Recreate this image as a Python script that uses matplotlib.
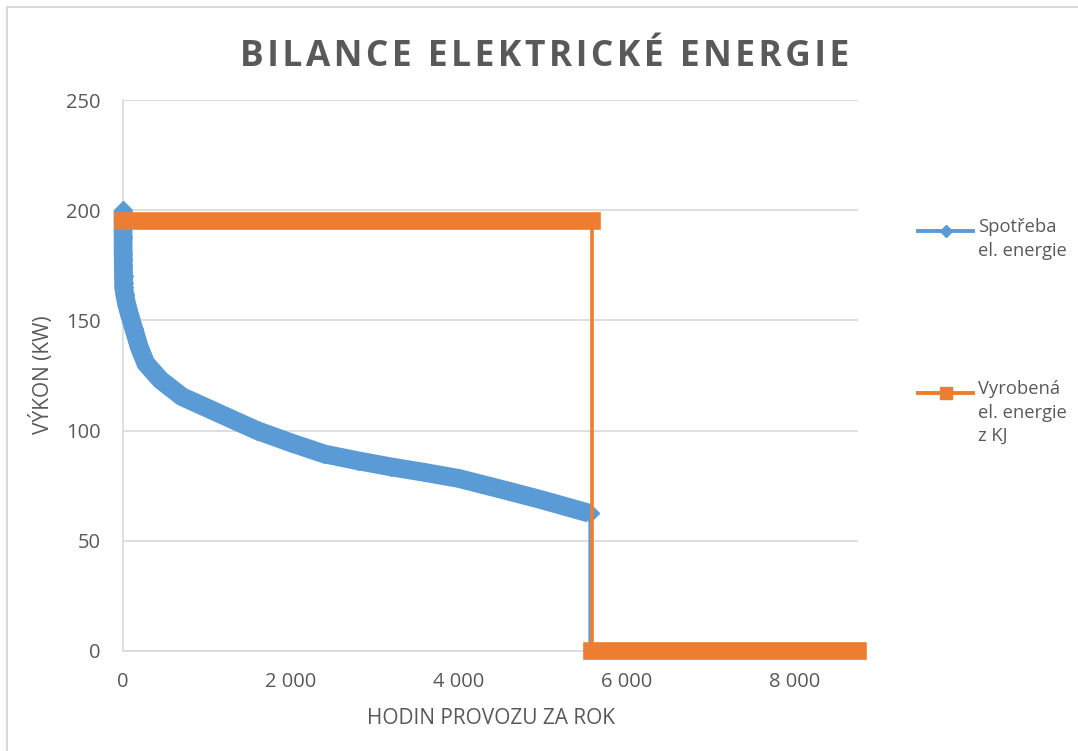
import numpy as np
import matplotlib.pyplot as plt
from matplotlib.lines import Line2D
from matplotlib.ticker import FuncFormatter

plt.rcParams['font.family'] = ['Open Sans', 'DejaVu Sans']

# spotřeba el. energie - seřazená křivka trvání (hodiny, kW)
hours_use = [0, 1, 2, 3, 4, 5, 6, 7, 8, 20, 40, 75, 130, 193, 272, 447, 703,
             1000, 1319, 1600, 2000, 2400, 2800, 3200, 3600, 4000, 4600, 5000,
             5560, 5560]
kw_use = [200, 188, 180, 178, 175, 172, 170, 167, 165, 162, 158, 153, 146, 138,
          130.5, 123, 115.4, 110.3, 104.8, 100, 94.5, 89.4, 86.3, 83.5, 81,
          78.3, 72.5, 68.5, 62.5, 0]

# výroba z kogenerační jednotky (hodiny, kW)
hours_kj = [0, 5585, 5585, 8760]
kw_kj = [195, 195, 0, 0]

x_ticks = [0, 2000, 4000, 6000, 8000]
y_ticks = [0, 50, 100, 150, 200, 250]

labels = ["Spotřeba\nel. energie", "Vyrobená\nel. energie\nz KJ"]

BLUE = "#5B9BD5"
ORANGE = "#ED7D31"
GREY = "#595959"
GRID = "#D9D9D9"


def dense_runs(x):
    # úseky, kde se mění čas - tam jsou body hodinové a splývají v pás
    out, cur = [], [0]
    for i in range(1, len(x)):
        if x[i] != x[i - 1]:
            cur.append(i)
        else:
            if len(cur) > 1:
                out.append(cur)
            cur = [i]
    if len(cur) > 1:
        out.append(cur)
    return out


fig = plt.figure(figsize=(10.78, 7.51), dpi=100)
ax = fig.add_axes([123 / 1078, 1 - 651 / 751, 735 / 1078, 551 / 751])

# spotřeba
xu, yu = np.array(hours_use), np.array(kw_use)
ax.plot(xu, yu, color=BLUE, lw=1.6, zorder=3)
for r in dense_runs(hours_use):
    ax.plot(xu[r], yu[r], color=BLUE, lw=13.5, solid_capstyle='butt',
            solid_joinstyle='round', marker='D', ms=9.5, mec=BLUE, mfc=BLUE,
            zorder=3, clip_on=False)

# výroba KJ
xk, yk = np.array(hours_kj), np.array(kw_kj)
ax.plot(xk, yk, color=ORANGE, lw=2.6, zorder=4)
for r in dense_runs(hours_kj):
    ax.plot(xk[r], yk[r], color=ORANGE, lw=12.7, solid_capstyle='projecting',
            zorder=4, clip_on=False)

ax.set_xlim(0, 8760)
ax.set_ylim(0, 250)
ax.set_xticks(x_ticks)
ax.set_yticks(y_ticks)
ax.xaxis.set_major_formatter(FuncFormatter(lambda v, p: f"{v:,.0f}".replace(",", " ")))
ax.grid(axis='y', color=GRID, lw=1.2, zorder=0)
ax.set_axisbelow(True)
for s in ['top', 'right']:
    ax.spines[s].set_visible(False)
for s in ['left', 'bottom']:
    ax.spines[s].set_color(GRID)
    ax.spines[s].set_linewidth(1.2)
ax.tick_params(length=0, labelsize=14.5, labelcolor=GREY)
ax.tick_params(axis='y', pad=16)
ax.tick_params(axis='x', pad=15)

# nadpis s prostrkáním písmen
title = "\u200a".join("BILANCE ELEKTRICKÉ ENERGIE")
fig.text(545 / 1078, 1 - 57 / 751, title, ha='center', va='center',
         fontsize=25.5, fontweight='bold', color=GREY)
fig.text(42 / 1078, 1 - 375 / 751, "VÝKON (KW)", rotation=90, ha='center',
         va='center', fontsize=15, color=GREY)
fig.text(491 / 1078, 1 - 718 / 751, "HODIN PROVOZU ZA ROK", ha='center',
         va='center', fontsize=15, color=GREY)

# legenda vpravo
W, H = 1078, 751
for ypx, col, mk, ms, lab in [(231, BLUE, 'D', 6, labels[0]),
                              (393, ORANGE, 's', 8, labels[1])]:
    fig.add_artist(Line2D([918 / W, 973 / W], [1 - ypx / H] * 2, color=col,
                          lw=2.8, transform=fig.transFigure))
    fig.add_artist(Line2D([946 / W], [1 - ypx / H], color=col, marker=mk,
                          ms=ms, transform=fig.transFigure))
    fig.text(978 / W, 1 - (ypx - 13) / H, lab, ha='left', va='top',
             fontsize=13.2, color=GREY, linespacing=1.4)

# rámeček grafu
fig.add_artist(Line2D([7 / W, 7 / W], [1 - 7 / H, 0], color=GRID, lw=1.5,
                      transform=fig.transFigure))
fig.add_artist(Line2D([7 / W, 1], [1 - 7 / H, 1 - 7 / H], color=GRID, lw=1.5,
                      transform=fig.transFigure))

fig.savefig("out.png", dpi=100)
